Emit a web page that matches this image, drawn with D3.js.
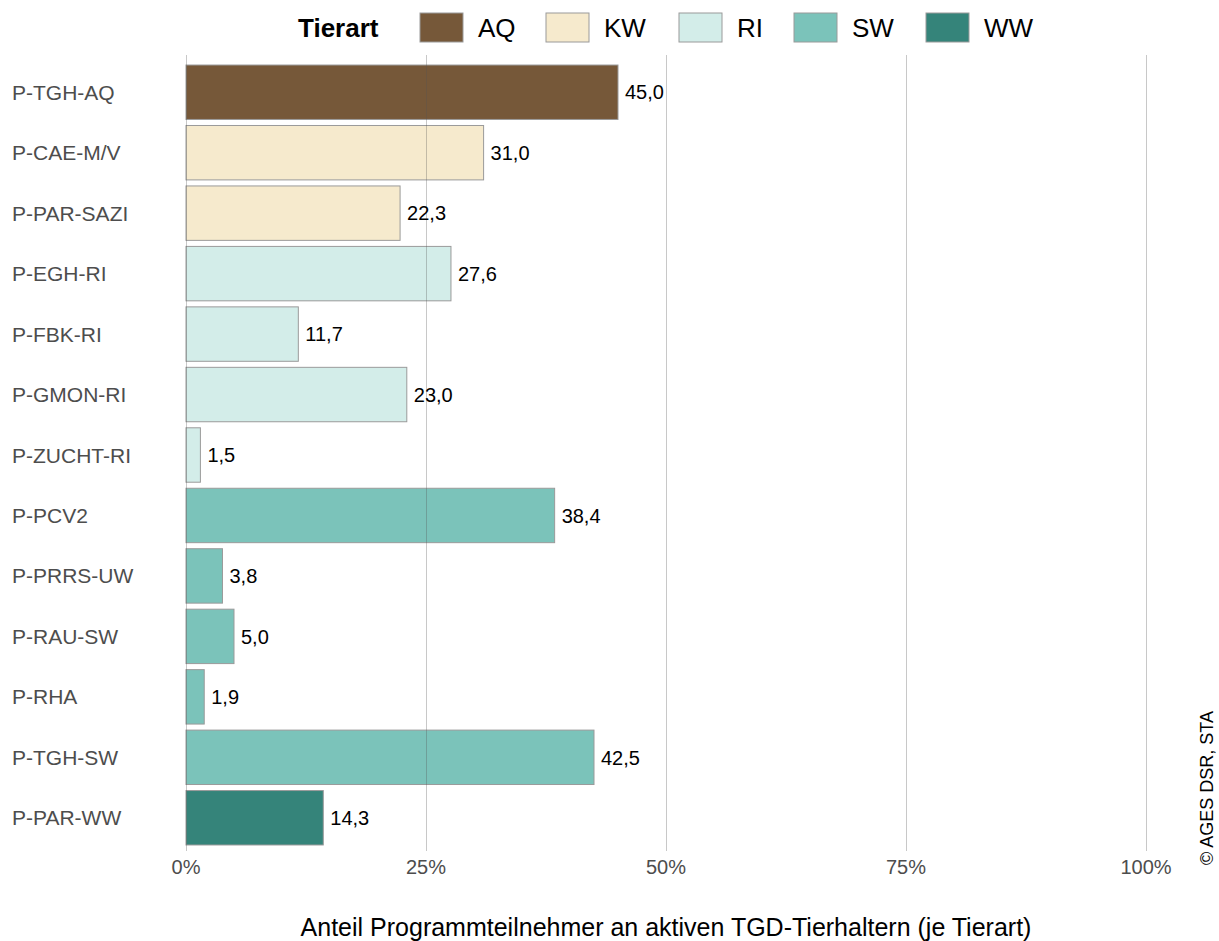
<!DOCTYPE html>
<html>
<head>
<meta charset="utf-8">
<script src="https://cdn.jsdelivr.net/npm/d3@7"></script>
<style>
  body { margin: 0; background: #fff; }
  svg { font-family: "Liberation Sans", Arial, sans-serif; }
</style>
</head>
<body>
<div id="viz"></div>
<script>
// data
var programme = ["P-TGH-AQ", "P-CAE-M/V", "P-PAR-SAZI", "P-EGH-RI", "P-FBK-RI", "P-GMON-RI", "P-ZUCHT-RI",
                 "P-PCV2", "P-PRRS-UW", "P-RAU-SW", "P-RHA", "P-TGH-SW", "P-PAR-WW"];
var anteil = [45.0, 31.0, 22.3, 27.6, 11.7, 23.0, 1.5, 38.4, 3.8, 5.0, 1.9, 42.5, 14.3];
var tierart = ["AQ", "KW", "KW", "RI", "RI", "RI", "RI", "SW", "SW", "SW", "SW", "SW", "WW"];
var arten = ["AQ", "KW", "RI", "SW", "WW"];
var farben = ["#765839", "#f6eacd", "#d3ede9", "#7bc3ba", "#35847a"];
var ticks = [0, 25, 50, 75, 100];

var W = 1219, H = 941;
var margin = {top: 62, right: 73, bottom: 93, left: 186};

var svg = d3.select("#viz").append("svg")
    .attr("width", W)
    .attr("height", H);

var x = d3.scaleLinear().domain([0, 100]).range([margin.left, W - margin.right]);
var y = d3.scaleBand().domain(programme).range([margin.top, H - margin.bottom])
    .paddingInner(0.1).paddingOuter(0.05);
var col = d3.scaleOrdinal().domain(arten).range(farben);

var rows = programme.map(function(p, i) { return {name: p, value: anteil[i], art: tierart[i]}; });

// bars
svg.append("g").selectAll("rect")
  .data(rows)
  .enter().append("rect")
    .attr("x", x(0))
    .attr("y", function(d) { return y(d.name); })
    .attr("width", function(d) { return x(d.value) - x(0); })
    .attr("height", y.bandwidth())
    .attr("fill", function(d) { return col(d.art); })
    .attr("stroke", "#9a9a9a")
    .attr("stroke-width", 1);

// gridlines on top
svg.append("g").selectAll("line")
  .data(ticks)
  .enter().append("line")
    .attr("x1", function(d) { return x(d) + 0.5; })
    .attr("x2", function(d) { return x(d) + 0.5; })
    .attr("y1", 55)
    .attr("y2", 851)
    .attr("stroke", "#555")
    .attr("stroke-opacity", 0.32)
    .attr("stroke-width", 1);

// value labels
svg.append("g").selectAll("text")
  .data(rows)
  .enter().append("text")
    .attr("x", function(d) { return x(d.value) + 7; })
    .attr("y", function(d) { return y(d.name) + y.bandwidth() / 2; })
    .attr("dy", "0.36em")
    .style("font-size", "20px")
    .attr("fill", "#000")
    .text(function(d) { return d.value.toFixed(1).replace(".", ","); });

// y axis labels
svg.append("g").selectAll("text")
  .data(programme)
  .enter().append("text")
    .attr("x", 12)
    .attr("y", function(d) { return y(d) + y.bandwidth() / 2; })
    .attr("dy", "0.36em")
    .style("font-size", "21px")
    .attr("fill", "#4d4d4d")
    .text(function(d) { return d; });

// x axis tick labels
svg.append("g").selectAll("text")
  .data(ticks)
  .enter().append("text")
    .attr("x", function(d) { return x(d); })
    .attr("y", 874)
    .attr("text-anchor", "middle")
    .style("font-size", "20px")
    .attr("fill", "#4d4d4d")
    .text(function(d) { return d + "%"; });

// x title
svg.append("text")
  .attr("x", x(50))
  .attr("y", 936)
  .attr("text-anchor", "middle")
  .style("font-size", "25px")
  .attr("fill", "#000")
  .text("Anteil Programmteilnehmer an aktiven TGD-Tierhaltern (je Tierart)");

// legend
var leg = svg.append("g");
leg.append("text")
  .attr("x", 298)
  .attr("y", 28)
  .attr("dy", "0.36em")
  .style("font-size", "26px")
  .style("font-weight", "bold")
  .text("Tierart");

var legX = [420, 546, 679, 794, 926];
var item = leg.selectAll("g.item")
  .data(arten)
  .enter().append("g")
    .attr("class", "item")
    .attr("transform", function(d, i) { return "translate(" + legX[i] + ",13)"; });
item.append("rect")
  .attr("width", 43)
  .attr("height", 29)
  .attr("fill", function(d) { return col(d); })
  .attr("stroke", "#9a9a9a");
item.append("text")
  .attr("x", 58)
  .attr("y", 15)
  .attr("dy", "0.36em")
  .style("font-size", "26px")
  .text(function(d) { return d; });

// copyright
svg.append("text")
  .attr("transform", "translate(1213,788) rotate(-90)")
  .attr("text-anchor", "middle")
  .style("font-size", "18px")
  .attr("fill", "#000")
  .text("© AGES DSR, STA");
</script>
</body>
</html>
